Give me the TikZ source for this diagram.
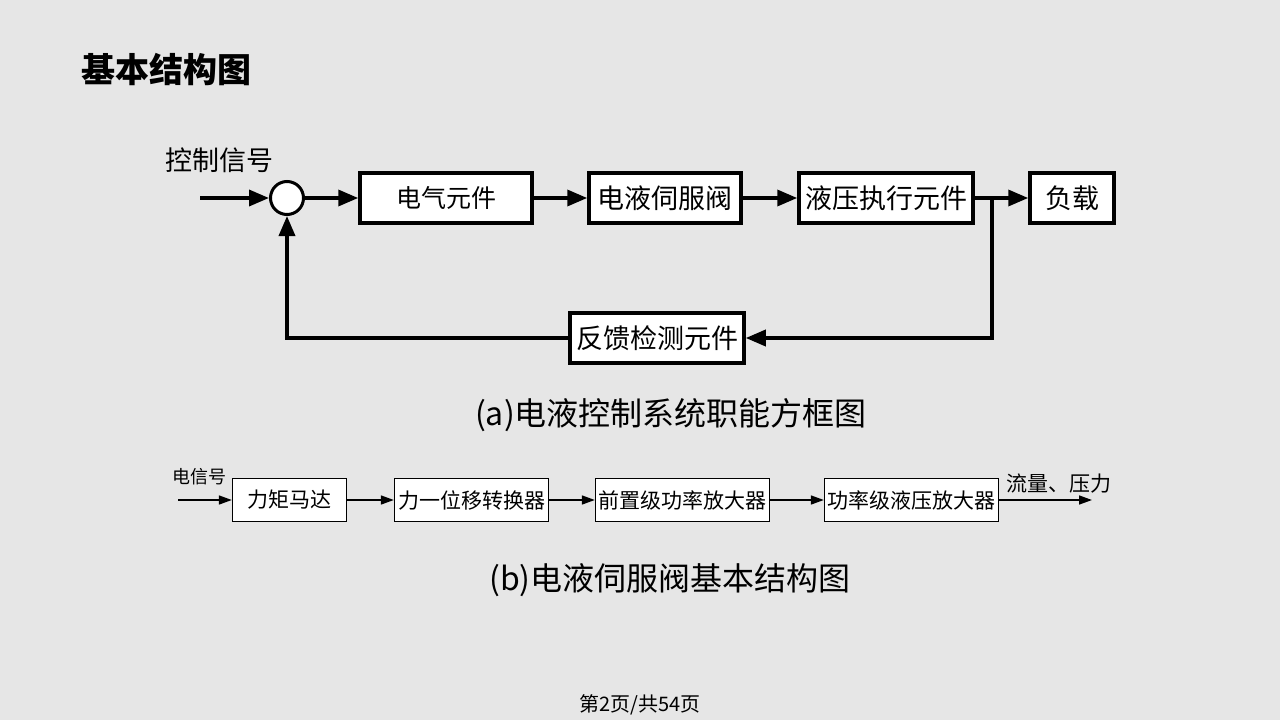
\documentclass[tikz,border=0pt]{standalone}
\usepackage{fontspec}
\setmainfont{Liberation Sans}
\newfontfamily\cjk{Noto Sans CJK SC}
\usetikzlibrary{arrows.meta}
\definecolor{bg}{HTML}{E6E6E6}
\begin{document}
\begin{tikzpicture}[x=1pt,y=-1pt,
  thickbox/.style={draw=black,fill=white,line width=3.5pt,minimum height=50pt,inner sep=0pt,font=\cjk\fontsize{27}{27}\selectfont},
  thinbox/.style={draw=black,fill=white,line width=1.3pt,minimum height=43pt,inner sep=0pt,font=\cjk\fontsize{21}{21}\selectfont},
  thickarrow/.style={line width=3.5pt,-{Triangle[length=20pt,width=16pt]}},
  thinarrow/.style={line width=1.5pt,-{Triangle[length=13pt,width=9pt]}},
  lbl/.style={inner sep=0pt,font=\cjk\fontsize{#1}{#1}\selectfont}]
\fill[bg] (0,0) rectangle (1280,720);
\useasboundingbox (0,0) rectangle (1280,720);
% title
\node[inner sep=0pt,anchor=west,font=\cjk\bfseries\fontsize{34}{34}\selectfont] (title) at (81,70) {基本结构图};
% top diagram
\node[lbl=27] (ctl) at (219,160) {控制信号};
\coordinate (in) at (200,198);
\node[draw=black,fill=white,circle,line width=3pt,minimum size=33pt,inner sep=0pt] (sum) at (287,198) {};
\node[thickbox,minimum width=172pt,font=\cjk\fontsize{25}{25}\selectfont] (elec) at (446,198) {电气元件};
\node[thickbox,minimum width=152pt] (valve) at (665,198) {电液伺服阀};
\node[thickbox,minimum width=174pt] (act) at (886,198) {液压执行元件};
\node[thickbox,minimum width=84pt] (load) at (1072,198) {负载};
\node[thickbox,minimum width=174pt] (fb) at (657,338) {反馈检测元件};
\coordinate (br) at (992,198);
\draw[thickarrow] (in) -- (sum.west);
\draw[thickarrow] (sum.east) -- (elec.west);
\draw[thickarrow] (elec.east) -- (valve.west);
\draw[thickarrow] (valve.east) -- (act.west);
\draw[thickarrow] (act.east) -- (load.west);
\draw[thickarrow] (br) |- (fb.east);
\draw[thickarrow] (fb.west) -| (sum.south);
\node[lbl=32] (capa) at (671,415) {(a)电液控制系统职能方框图};
% bottom diagram
\node[lbl=18] (esig) at (199,477) {电信号};
\coordinate (bin) at (178,500);
\node[thinbox,minimum width=114pt] (tm) at (289.5,500) {力矩马达};
\node[thinbox,minimum width=154pt] (fd) at (471.5,500) {力一位移转换器};
\node[thinbox,minimum width=174pt] (pre) at (682.5,500) {前置级功率放大器};
\node[thinbox,minimum width=174pt] (pow) at (911.5,500) {功率级液压放大器};
\coordinate (bout) at (1092,500);
\node[lbl=21] (flow) at (1059,484) {流量、压力};
\draw[thinarrow] (bin) -- (tm.west);
\draw[thinarrow] (tm.east) -- (fd.west);
\draw[thinarrow] (fd.east) -- (pre.west);
\draw[thinarrow] (pre.east) -- (pow.west);
\draw[thinarrow] (pow.east) -- (bout);
\node[lbl=32] (capb) at (670,580) {(b)电液伺服阀基本结构图};
% footer
\node[lbl=20] (foot) at (640,705) {第2页/共54页};
\end{tikzpicture}
\end{document}
